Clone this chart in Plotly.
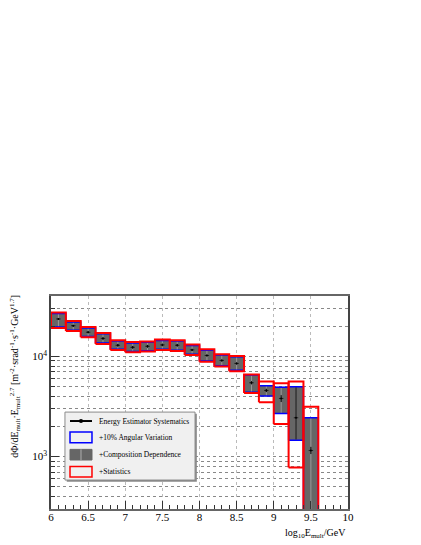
import plotly.graph_objects as go

# bin centres in log10(E/GeV), bin width 0.2
centers = [6.1, 6.3, 6.5, 6.7, 6.9, 7.1, 7.3, 7.5, 7.7, 7.9,
           8.1, 8.3, 8.5, 8.7, 8.9, 9.1, 9.3, 9.5]
bin_width = 0.2

# flux values (central points)
flux = [23600, 20200, 17400, 15100, 12900, 12300, 12600, 13000, 12900, 11600,
        10200, 9100, 8500, 5450, 4570, 3800, 2440, 1150]

# energy estimator systematics (black bars)
est_hi = [24100, 20600, 17800, 15500, 13300, 12700, 13000, 13400, 13300, 11900,
          10400, 9300, 8700, 5650, 4750, 4100, 4900, 1250]
est_lo = [23100, 19800, 17000, 14700, 12500, 11900, 12200, 12600, 12500, 11300,
          10000, 8900, 8300, 5250, 4400, 3500, 1480, 1060]

# composition dependence (grey boxes) / angular variation (blue boxes)
comp_hi = [26700, 22000, 19200, 16800, 14200, 13600, 13800, 14400, 14200, 12800,
           11500, 10300, 9900, 6500, 5090, 4930, 4970, 2440]
comp_lo = [19600, 18200, 15800, 13600, 11800, 11200, 11400, 11800, 11500, 10500,
           9000, 8050, 7250, 4380, 4010, 2690, 1456, 200]

# statistics (red boxes)
stat_hi = [27300, 22500, 19600, 17100, 14500, 13900, 14100, 14700, 14500, 13100,
           11800, 10500, 10100, 6600, 5600, 5400, 5600, 3150]
stat_lo = [19200, 17900, 15500, 13300, 11600, 11000, 11200, 11600, 11300, 10300,
           8850, 7900, 7100, 4300, 3480, 2110, 780, 200]

y_ticks = [1000, 10000]
y_tick_text = ['10<sup>3</sup>', '10<sup>4</sup>']
y_minor = [300, 400, 500, 600, 700, 800, 900,
           2000, 3000, 4000, 5000, 6000, 7000, 8000, 9000, 20000, 30000, 40000]


def boxes(lo, hi):
    xs, ys = [], []
    for c, l, h in zip(centers, lo, hi):
        x0, x1 = c - bin_width / 2, c + bin_width / 2
        xs += [x0, x1, x1, x0, x0, None]
        ys += [l, l, h, h, l, None]
    return xs, ys


def vlines(lo, hi):
    xs, ys = [], []
    for c, l, h in zip(centers, lo, hi):
        xs += [c, c, None]
        ys += [l, h, None]
    return xs, ys


fig = go.Figure()

gx, gy = boxes(comp_lo, comp_hi)
fig.add_trace(go.Scatter(x=gx, y=gy, mode='lines', fill='toself',
                         fillcolor='#666666', line=dict(color='#666666', width=0.5),
                         hoverinfo='skip'))

lx, ly = vlines(comp_lo, comp_hi)
fig.add_trace(go.Scatter(x=lx, y=ly, mode='lines',
                         line=dict(color='#9a9a9a', width=1), hoverinfo='skip'))

bx, by = boxes(comp_lo, comp_hi)
fig.add_trace(go.Scatter(x=bx, y=by, mode='lines',
                         line=dict(color='#0000ff', width=1.5), hoverinfo='skip'))

rx, ry = boxes(stat_lo, stat_hi)
fig.add_trace(go.Scatter(x=rx, y=ry, mode='lines',
                         line=dict(color='#ff0000', width=2), hoverinfo='skip'))

fig.add_trace(go.Scatter(
    x=centers, y=flux, mode='markers',
    marker=dict(color='black', size=2),
    error_y=dict(type='data', symmetric=False,
                 array=[h - f for h, f in zip(est_hi, flux)],
                 arrayminus=[f - l for f, l in zip(flux, est_lo)],
                 color='black', thickness=1, width=0),
    error_x=dict(type='constant', value=0.03, color='#222', thickness=1, width=0),
    hovertemplate='%{x}: %{y:.0f}<extra></extra>'))

serif = 'Liberation Serif'

# page body adds an 8px offset, so the figure is shrunk to fit the window
fig.update_layout(
    width=413, height=537,
    margin=dict(l=43, r=73, t=288, b=36),
    paper_bgcolor='white', plot_bgcolor='white',
    showlegend=False,
    font=dict(family=serif, color='black', size=11),
)

fig.update_xaxes(
    range=[6, 10], dtick=0.5, tick0=6,
    ticks='inside', ticklen=8, tickcolor='#333', tickwidth=1,
    showline=True, linecolor='#666', linewidth=1.5, mirror=True,
    showgrid=True, gridcolor='#bbbbbb', griddash='dot', gridwidth=1,
    zeroline=False, ticklabelstandoff=-3,
    tickfont=dict(family=serif, size=11),
    minor=dict(dtick=0.1, ticks='inside', ticklen=4, tickcolor='#333', showgrid=False),
)

fig.update_yaxes(
    type='log', range=[2.477, 4.602],
    tickvals=y_ticks, ticktext=y_tick_text,
    ticks='inside', ticklen=8, tickcolor='#333', tickwidth=1,
    showline=True, linecolor='#444', linewidth=1.5, mirror=True,
    showgrid=True, gridcolor='#888888', griddash='dot', gridwidth=1,
    zeroline=False, ticklabelstandoff=0,
    tickfont=dict(family=serif, size=11),
    minor=dict(tickvals=y_minor, ticks='inside', ticklen=4, tickcolor='#333',
               showgrid=True, gridcolor='#888888', griddash='dot', gridwidth=1),
)

# axis titles
fig.add_annotation(
    text='dΦ/dE<sub>mult</sub>·E<sub>mult</sub><sup>2.7</sup> '
         '[m<sup>-2</sup>·srad<sup>-1</sup>·s<sup>-1</sup>·GeV<sup>1.7</sup>]',
    xref='paper', yref='paper', x=-0.12, y=1.015, xanchor='center', yanchor='top',
    textangle=-90, showarrow=False, font=dict(family=serif, size=10))
fig.add_annotation(
    text='log<sub>10</sub>E<sub>mult</sub>/GeV',
    xref='paper', yref='paper', x=1.0, y=-0.075, xanchor='right', yanchor='top',
    showarrow=False, font=dict(family=serif, size=10))

# legend box (drawn ROOT-style in paper coordinates)
lg_x0, lg_x1, lg_y0, lg_y1 = 0.047, 0.485, 0.136, 0.455
fig.add_shape(type='rect', xref='paper', yref='paper',
              x0=lg_x0 + 0.006, x1=lg_x1 + 0.006, y0=lg_y0 - 0.008, y1=lg_y1 - 0.008,
              fillcolor='#8a8a8a', line=dict(width=0), layer='above')
fig.add_shape(type='rect', xref='paper', yref='paper',
              x0=lg_x0, x1=lg_x1, y0=lg_y0, y1=lg_y1,
              fillcolor='#f0f0f0', line=dict(color='#8a8a8a', width=1), layer='above')

legend_labels = ['Energy Estimator Systematics', '+10% Angular Variation',
                 '+Composition Dependence', '+Statistics']
rows = [0.413, 0.336, 0.255, 0.175]
sx0, sx1, half_h = 0.064, 0.138, 0.025

fig.add_shape(type='line', xref='paper', yref='paper', x0=sx0, x1=sx1, y0=rows[0], y1=rows[0],
              line=dict(color='black', width=2), layer='above')
fig.add_shape(type='circle', xref='paper', yref='paper',
              x0=(sx0 + sx1) / 2 - 0.007, x1=(sx0 + sx1) / 2 + 0.007,
              y0=rows[0] - 0.009, y1=rows[0] + 0.009,
              fillcolor='black', line=dict(width=0), layer='above')
fig.add_shape(type='rect', xref='paper', yref='paper', x0=sx0, x1=sx1,
              y0=rows[1] - half_h, y1=rows[1] + half_h,
              fillcolor='#f0f0f0', line=dict(color='#0000ff', width=1.5), layer='above')
fig.add_shape(type='rect', xref='paper', yref='paper', x0=sx0, x1=sx1,
              y0=rows[2] - half_h, y1=rows[2] + half_h,
              fillcolor='#666666', line=dict(color='#666666', width=1), layer='above')
fig.add_shape(type='line', xref='paper', yref='paper',
              x0=(sx0 + sx1) / 2, x1=(sx0 + sx1) / 2,
              y0=rows[2] - half_h, y1=rows[2] + half_h,
              line=dict(color='#b0b0b0', width=1), layer='above')
fig.add_shape(type='rect', xref='paper', yref='paper', x0=sx0, x1=sx1,
              y0=rows[3] - half_h, y1=rows[3] + half_h,
              fillcolor='#f0f0f0', line=dict(color='#ff0000', width=1.5), layer='above')

for label, yy in zip(legend_labels, rows):
    fig.add_annotation(text=label, xref='paper', yref='paper', x=0.155, y=yy,
                       xanchor='left', yanchor='middle', showarrow=False,
                       font=dict(family=serif, size=7.5))

fig.write_html("out.html")
